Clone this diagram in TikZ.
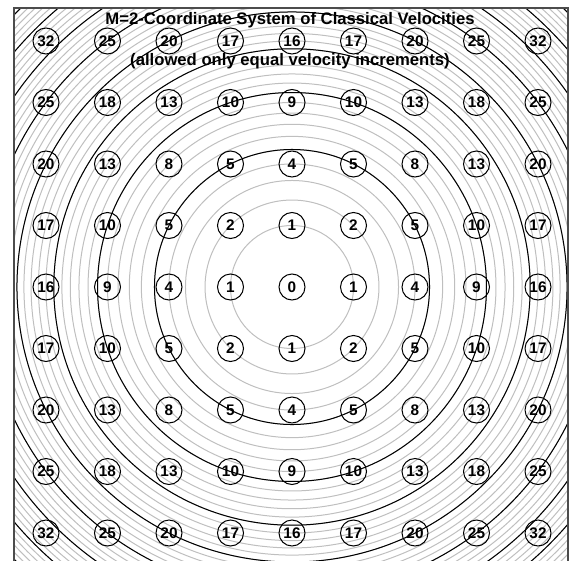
\documentclass[tikz,border=0pt]{standalone}
\usepackage{fontspec}
\setmainfont{Liberation Sans}
\usetikzlibrary{positioning}

\begin{document}
\begin{tikzpicture}[
  x=0.75pt, y=-0.75pt,
  ring/.style={draw=black!25, line width=0.75pt},
  mainring/.style={draw=black, line width=0.75pt},
  velo/.style={circle, draw, line width=0.75pt, minimum size=19.5pt, inner sep=0pt, font=\fontsize{11.5}{11.5}\selectfont\bfseries},
  caption/.style={font=\fontsize{12.5}{13}\selectfont\bfseries},
]
  \useasboundingbox (0,0) rectangle (570,560);
  \coordinate (o) at (292,287);

  % Rings of equal speed
  \begin{scope}
    \clip (14,8) rectangle (568,566);
    \foreach \n in {1,...,41}{
      \draw[ring] (o) circle[radius={61.5*sqrt(\n)}];
    }
    \foreach \n in {5,10,...,40}{
      \draw[mainring] (o) circle[radius={61.5*sqrt(\n)}];
    }
  \end{scope}
  \draw[line width=1.1pt, black!70] (14,8) rectangle (568,566);

  % Velocity points
  \foreach \i in {-4,...,4}{
    \foreach \j in {-4,...,4}{
      \pgfmathtruncatemacro{\v}{\i*\i+\j*\j}
      \node[velo] (v\i\j) at ({292+61.5*\i},{287+61.5*\j}) {\v};
    }
  }

  % Title
  \node[caption] (title) at (290,20) {M=2-Coordinate System of Classical Velocities};
  \node[caption] (subtitle) at (290,61) {(allowed only equal velocity increments)};
\end{tikzpicture}
\end{document}
